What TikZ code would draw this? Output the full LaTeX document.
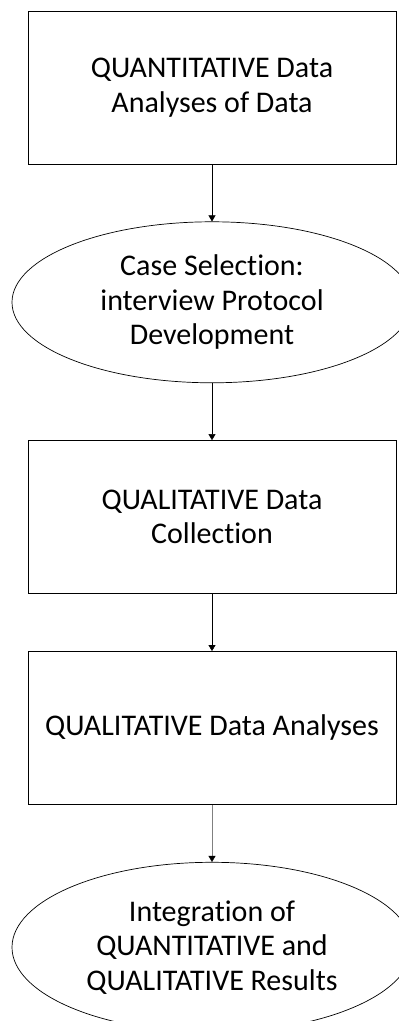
\documentclass[tikz,border=0pt]{standalone}
\usepackage{fontspec}
\setmainfont{Carlito}[Ligatures=NoCommon]
\usetikzlibrary{positioning,shapes.geometric,arrows.meta}

\begin{document}
\begin{tikzpicture}[->, >={Triangle[width=7pt,length=6pt]}, node distance=57pt,
  box/.style={draw, rectangle, line width=0.9pt, minimum width=368pt, minimum height=153pt, align=center},
  oval/.style={draw, ellipse, line width=0.7pt, minimum width=400pt, minimum height=161pt, align=center},
  font=\fontsize{30pt}{34.5pt}\selectfont]
\useasboundingbox (0,0) rectangle (399pt,1021pt);
\node (1)[box] at (212pt,933.5pt) {QUANTITATIVE Data\\Analyses of Data};
\node (2)[oval] [below=of 1] {Case Selection:\\interview Protocol\\Development};
\node (3)[box]  [below=of 2] {QUALITATIVE Data\\Collection};
\node (4)[box]  [below=of 3] {QUALITATIVE Data Analyses};
\node (5)[oval, minimum height=170pt] [below=of 4] {Integration of\\QUANTITATIVE and\\QUALITATIVE Results};
\path 	(1)edge(2)
		(2)edge(3)
		(3)edge(4)
		(4)edge[draw=gray, -{Triangle[width=7pt,length=6pt,color=black]}](5);
\end{tikzpicture}
\end{document}
